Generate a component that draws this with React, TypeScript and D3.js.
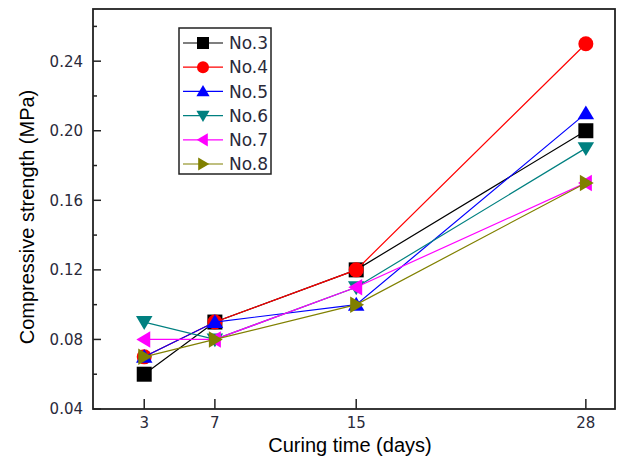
import { useRef, useEffect } from 'react'
import * as d3 from 'd3'

const WIDTH = 619
const HEIGHT = 461
const PLOT = { left: 93, right: 615, top: 9, bottom: 409 }

const DAYS = [3, 7, 15, 28]
const Y_TICKS = [0.04, 0.08, 0.12, 0.16, 0.2, 0.24]
const Y_MINOR = [0.06, 0.1, 0.14, 0.18, 0.22, 0.26]

const SERIES_NAMES = ['No.3', 'No.4', 'No.5', 'No.6', 'No.7', 'No.8']
const NO3 = [0.06, 0.09, 0.12, 0.2]
const NO4 = [0.07, 0.09, 0.12, 0.25]
const NO5 = [0.07, 0.09, 0.1, 0.21]
const NO6 = [0.09, 0.08, 0.11, 0.19]
const NO7 = [0.08, 0.08, 0.11, 0.17]
const NO8 = [0.07, 0.08, 0.1, 0.17]

const SERIES = [
  { name: SERIES_NAMES[0], values: NO3, color: '#000000', shape: 'square' },
  { name: SERIES_NAMES[1], values: NO4, color: '#ff0000', shape: 'circle' },
  { name: SERIES_NAMES[2], values: NO5, color: '#0000ff', shape: 'up' },
  { name: SERIES_NAMES[3], values: NO6, color: '#008080', shape: 'down' },
  { name: SERIES_NAMES[4], values: NO7, color: '#ff00ff', shape: 'left' },
  { name: SERIES_NAMES[5], values: NO8, color: '#808000', shape: 'right' },
]

// marker path centred on 0,0
function markerPath(shape: string, s: number) {
  const h = s / 2
  switch (shape) {
    case 'square': return `M${-h},${-h}H${h}V${h}H${-h}Z`
    case 'circle': return d3.symbol(d3.symbolCircle, Math.PI * h * h)() as string
    case 'up': return `M0,${-h * 1.05}L${h * 1.1},${h * 0.8}L${-h * 1.1},${h * 0.8}Z`
    case 'down': return `M0,${h * 1.05}L${h * 1.1},${-h * 0.8}L${-h * 1.1},${-h * 0.8}Z`
    case 'left': return `M${-h * 1.05},0L${h * 0.8},${-h * 1.1}L${h * 0.8},${h * 1.1}Z`
    default: return `M${h * 1.05},0L${-h * 0.8},${-h * 1.1}L${-h * 0.8},${h * 1.1}Z`
  }
}

export default function App() {
  const svgRef = useRef<SVGSVGElement>(null)

  useEffect(() => {
    if (!svgRef.current) return
    const svg = d3.select(svgRef.current)
    svg.selectAll('*').remove()

    const x = d3.scaleLinear().domain([0.1, 29.65]).range([PLOT.left, PLOT.right])
    const y = d3.scaleLinear().domain([0.04, 0.27]).range([PLOT.bottom, PLOT.top])
    const tickColor = '#2a2a3a'
    const frameColor = '#222'

    // frame
    svg.append('rect')
      .attr('x', PLOT.left).attr('y', PLOT.top)
      .attr('width', PLOT.right - PLOT.left).attr('height', PLOT.bottom - PLOT.top)
      .attr('fill', 'none').attr('stroke', frameColor).attr('stroke-width', 1.8)

    // y ticks (inward)
    const yAxis = svg.append('g')
    yAxis.selectAll('line.major').data(Y_TICKS).join('line')
      .attr('x1', PLOT.left).attr('x2', PLOT.left + 8)
      .attr('y1', d => y(d)).attr('y2', d => y(d))
      .attr('stroke', frameColor).attr('stroke-width', 1.5)
    yAxis.selectAll('line.minor').data(Y_MINOR).join('line')
      .attr('x1', PLOT.left).attr('x2', PLOT.left + 4)
      .attr('y1', d => y(d)).attr('y2', d => y(d))
      .attr('stroke', frameColor).attr('stroke-width', 1.5)
    yAxis.selectAll('text').data(Y_TICKS).join('text')
      .attr('x', PLOT.left - 10).attr('y', d => y(d))
      .attr('dy', '0.36em').attr('text-anchor', 'end')
      .attr('font-family', 'DejaVu Sans, sans-serif').attr('font-size', 15)
      .attr('fill', tickColor)
      .text(d => d3.format('.2f')(d))

    // x ticks
    const xAxis = svg.append('g')
    xAxis.selectAll('line').data(DAYS).join('line')
      .attr('x1', d => x(d)).attr('x2', d => x(d))
      .attr('y1', PLOT.bottom).attr('y2', PLOT.bottom - 10)
      .attr('stroke', frameColor).attr('stroke-width', 1.5)
    xAxis.selectAll('text').data(DAYS).join('text')
      .attr('x', d => x(d)).attr('y', PLOT.bottom + 19)
      .attr('text-anchor', 'middle')
      .attr('font-family', 'DejaVu Sans, sans-serif').attr('font-size', 15)
      .attr('fill', tickColor)
      .text(d => d)

    // axis titles
    svg.append('text')
      .attr('x', 350).attr('y', 452)
      .attr('text-anchor', 'middle')
      .attr('font-family', 'Liberation Sans, Arial, sans-serif').attr('font-size', 20)
      .attr('fill', '#000')
      .text('Curing time (days)')
    svg.append('text')
      .attr('transform', `translate(34,${(PLOT.top + PLOT.bottom) / 2 + 8}) rotate(-90)`)
      .attr('text-anchor', 'middle')
      .attr('font-family', 'Liberation Sans, Arial, sans-serif').attr('font-size', 20)
      .attr('fill', '#000')
      .text('Compressive strength (MPa)')

    // series
    const line = d3.line<number>().x((_, i) => x(DAYS[i])).y(d => y(d))
    SERIES.forEach(s => {
      const g = svg.append('g')
      g.append('path').datum(s.values).attr('d', line)
        .attr('fill', 'none').attr('stroke', s.color).attr('stroke-width', 1.2)
      g.selectAll('path.m').data(s.values).join('path')
        .attr('class', 'm')
        .attr('transform', (d, i) => `translate(${x(DAYS[i])},${y(d)})`)
        .attr('d', markerPath(s.shape, 15))
        .attr('fill', s.color)
    })

    // legend
    const lg = svg.append('g')
    lg.append('rect')
      .attr('x', 179).attr('y', 28).attr('width', 92).attr('height', 146)
      .attr('fill', '#fff').attr('stroke', frameColor).attr('stroke-width', 1.5)
    SERIES.forEach((s, i) => {
      const cy = 43 + i * 24.2
      lg.append('line')
        .attr('x1', 183).attr('x2', 223).attr('y1', cy).attr('y2', cy)
        .attr('stroke', s.color).attr('stroke-width', 1.2)
      lg.append('path')
        .attr('transform', `translate(203,${cy})`)
        .attr('d', markerPath(s.shape, 12))
        .attr('fill', s.color)
      lg.append('text')
        .attr('x', 229).attr('y', cy).attr('dy', '0.36em')
        .attr('font-family', 'DejaVu Sans, sans-serif').attr('font-size', 17)
        .attr('fill', tickColor)
        .text(s.name)
    })
  }, [])

  return (
    <div style={{ position: 'fixed', left: 0, top: 0, width: WIDTH, height: HEIGHT, background: '#fff' }}>
      <svg ref={svgRef} width={WIDTH} height={HEIGHT} />
    </div>
  )
}
